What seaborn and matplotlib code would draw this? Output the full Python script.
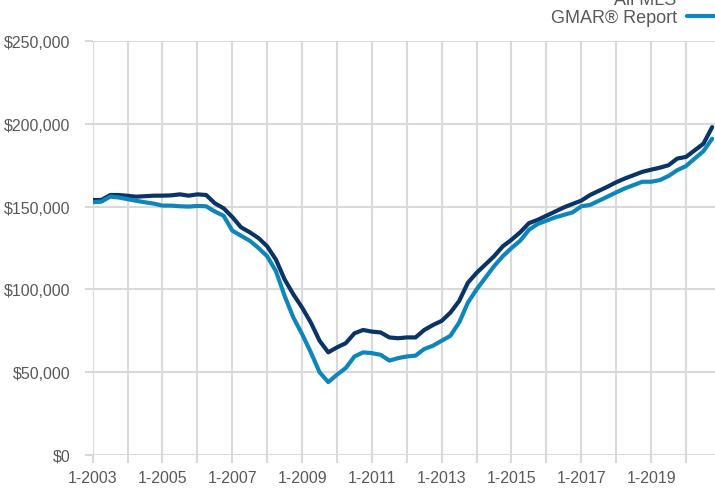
import matplotlib
matplotlib.use("Agg")
import matplotlib.pyplot as plt
import seaborn as sns
import pandas as pd
import numpy as np
from matplotlib.ticker import FuncFormatter, FixedLocator

# ---- data ----
months = [
    "2003-01", "2003-04", "2003-07", "2003-10",
    "2004-01", "2004-04", "2004-07", "2004-10",
    "2005-01", "2005-04", "2005-07", "2005-10",
    "2006-01", "2006-04", "2006-07", "2006-10",
    "2007-01", "2007-04", "2007-07", "2007-10",
    "2008-01", "2008-04", "2008-07", "2008-10",
    "2009-01", "2009-04", "2009-07", "2009-10",
    "2010-01", "2010-04", "2010-07", "2010-10",
    "2011-01", "2011-04", "2011-07", "2011-10",
    "2012-01", "2012-04", "2012-07", "2012-10",
    "2013-01", "2013-04", "2013-07", "2013-10",
    "2014-01", "2014-04", "2014-07", "2014-10",
    "2015-01", "2015-04", "2015-07", "2015-10",
    "2016-01", "2016-04", "2016-07", "2016-10",
    "2017-01", "2017-04", "2017-07", "2017-10",
    "2018-01", "2018-04", "2018-07", "2018-10",
    "2019-01", "2019-04", "2019-07", "2019-10",
    "2020-01", "2020-04", "2020-07", "2020-10",
]

all_mls = [
    154000, 154000, 157000, 157000,
    156500, 156000, 156300, 156600,
    156600, 156800, 157400, 156600,
    157400, 157000, 152000, 149000,
    143700, 137500, 134500, 131000,
    126000, 118000, 106000, 97000,
    89000, 80000, 69000, 62000,
    65000, 67500, 73500, 75500,
    74500, 74000, 71000, 70500,
    71000, 71000, 75500, 78500,
    81000, 86000, 93000, 104000,
    110000, 115000, 120000, 126000,
    130000, 134500, 140000, 142000,
    144500, 147000, 149500, 151600,
    153600, 157000, 159500, 162000,
    164700, 167000, 169000, 171000,
    172300, 173500, 175000, 179000,
    180000, 184000, 188000, 198000,
]

gmar = [
    152600, 153000, 156000, 155500,
    154500, 153500, 152600, 151800,
    150600, 150600, 150200, 150000,
    150400, 150200, 147000, 144500,
    135500, 132400, 129400, 125000,
    120000, 111000, 96000, 83000,
    73000, 62000, 50000, 44000,
    48500, 52500, 59500, 62000,
    61500, 60500, 57000, 58500,
    59500, 60000, 64000, 66000,
    69000, 72000, 80000, 92000,
    100000, 107000, 114000, 120000,
    125000, 129400, 136000, 139500,
    141500, 143500, 145000, 146500,
    150200, 151000, 153500, 156000,
    158600, 161000, 163000, 165000,
    165000, 166000, 168500, 172000,
    174500, 179000, 183500, 191000,
]

series_names = ["All MLS", "GMAR\u00ae Report"]
series_colors = ["#0b3466", "#0e86bb"]
y_ticks = [0, 50000, 100000, 150000, 200000, 250000]
x_label_years = list(range(2003, 2021, 2))
x_grid_years = list(range(2003, 2021))

# ---- build long table ----
def dec_year(s):
    y, m = s.split("-")
    return int(y) + (int(m) - 1) / 12.0

xs = [dec_year(m) for m in months]
df = pd.DataFrame({
    "x": xs * 2,
    "value": all_mls + gmar,
    "series": [series_names[0]] * len(xs) + [series_names[1]] * len(xs),
})

sns.set_theme(style="white")
plt.rcParams["font.family"] = ["Liberation Sans", "DejaVu Sans"]

fig = plt.figure(figsize=(7.15, 4.89), dpi=100)
ax = fig.add_axes([92.7 / 715, 1 - 456 / 489, 1 - 92.7 / 715, (456 - 42) / 489])

sns.lineplot(data=df, x="x", y="value", hue="series", hue_order=series_names,
             palette=series_colors, linewidth=3.0, ax=ax, legend=True)

ax.set_xlim(2003.0, 2003.0 + (715 - 92.7) / 34.9)
ax.set_ylim(0, 250000)
for sp in ax.spines.values():
    sp.set_visible(False)

grid_c = "#d9d9d9"
ax.xaxis.set_major_locator(FixedLocator(x_grid_years))
ax.set_xticklabels([f"1-{y}" if y in x_label_years else "" for y in x_grid_years])
ax.set_yticks(y_ticks)
ax.yaxis.set_major_formatter(FuncFormatter(lambda v, p: f"${v:,.0f}"))
ax.grid(True, color=grid_c, linewidth=1.5)
ax.set_axisbelow(True)
ax.tick_params(axis="both", which="major", length=6, width=1.5, color=grid_c,
               labelsize=11.5, labelcolor="#595959",
               bottom=True, left=True)
ax.tick_params(axis="x", pad=5)
ax.tick_params(axis="y", pad=10)
ax.set_xlabel("")
ax.set_ylabel("")

leg = ax.legend(loc="lower right", bbox_to_anchor=(1.012, 0.944),
                bbox_transform=fig.transFigure, frameon=False, markerfirst=False,
                fontsize=13, handlelength=2.0, handletextpad=0.6,
                labelspacing=0.1, borderpad=0, borderaxespad=0)
for t in leg.get_texts():
    t.set_color("#595959")

fig.savefig("out.png", dpi=100)
